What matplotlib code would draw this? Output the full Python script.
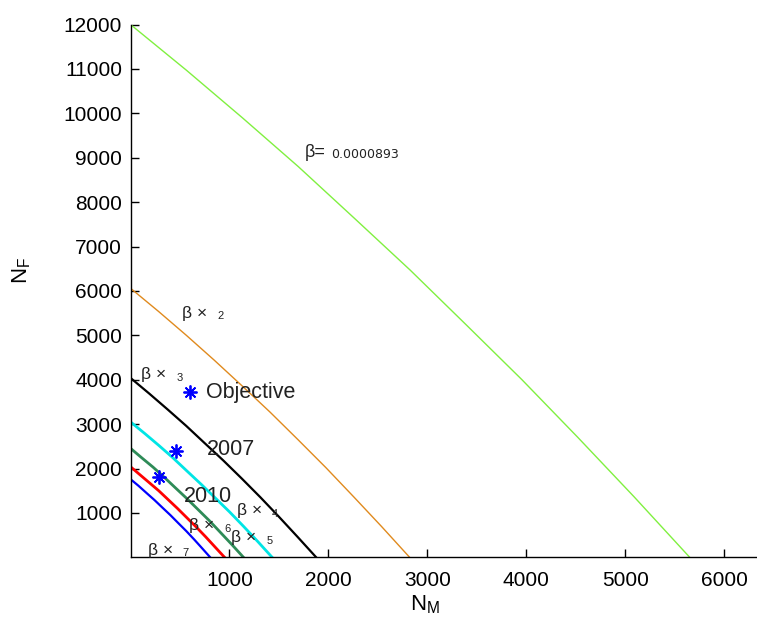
import matplotlib
matplotlib.use("Agg")
import matplotlib.pyplot as plt

# ---- data ----
green_nm = [0, 565, 1130, 1695, 2260, 2825, 3390, 3955, 4520, 5085, 5650]
green_nf = [12000, 10970, 9900, 8800, 7640, 6470, 5240, 4000, 2700, 1370, 0]
orange_nm = [0, 282, 564, 846, 1128, 1410, 1692, 1974, 2256, 2538, 2820]
orange_nf = [6060, 5540, 5000, 4440, 3860, 3270, 2650, 2020, 1360, 690, 0]
black_nm = [0, 188, 375, 563, 750, 938, 1126, 1313, 1501, 1688, 1876]
black_nf = [4040, 3690, 3330, 2960, 2570, 2180, 1770, 1350, 910, 460, 0]
cyan_nm = [0, 143, 286, 429, 572, 716, 859, 1002, 1145, 1288, 1431]
cyan_nf = [3050, 2790, 2520, 2240, 1940, 1640, 1330, 1020, 690, 350, 0]
dgreen_nm = [0, 114, 228, 342, 456, 571, 685, 799, 913, 1027, 1141]
dgreen_nf = [2455, 2240, 2030, 1800, 1560, 1320, 1070, 820, 550, 280, 0]
red_nm = [0, 95, 190, 285, 380, 475, 570, 665, 760, 855, 950]
red_nf = [2040, 1860, 1680, 1500, 1300, 1100, 890, 680, 460, 230, 0]
blue_nm = [0, 81, 161, 242, 322, 403, 483, 564, 644, 725, 805]
blue_nf = [1760, 1610, 1450, 1290, 1120, 950, 770, 590, 400, 200, 0]

point_names = ["Objective", "2007", "2010"]
point_nm = [606, 461, 283]
point_nf = [3716, 2401, 1815]

mult_labels = ["2", "3", "4", "5", "6", "7"]
mult_x = [525, 111, 1081, 1020, 596, 172]
mult_y = [5502, 4106, 1043, 435, 705, 164]

x_ticks = [1000, 2000, 3000, 4000, 5000, 6000]
y_ticks = [1000, 2000, 3000, 4000, 5000, 6000, 7000, 8000, 9000, 10000, 11000, 12000]

plt.rcParams['font.family'] = ['Liberation Sans', 'DejaVu Sans']

fig = plt.figure(figsize=(7.57, 6.27), dpi=100)
ax = fig.add_axes([130.5 / 757, (627 - 557.3) / 627, (757 - 130.5) / 757, (557.3 - 24.5) / 627])

ax.plot(green_nm, green_nf, color='#80F040', lw=1.0)
ax.plot(orange_nm, orange_nf, color='#E08A1E', lw=1.0)
ax.plot(black_nm, black_nf, color='black', lw=1.6)
ax.plot(cyan_nm, cyan_nf, color='#00E5E5', lw=2.0)
ax.plot(dgreen_nm, dgreen_nf, color='#2E8B57', lw=2.0)
ax.plot(red_nm, red_nf, color='#FF0000', lw=2.0)
ax.plot(blue_nm, blue_nf, color='#0000FF', lw=1.6)

ax.plot(point_nm, point_nf, linestyle='none', marker=(8, 2, 0), markersize=10,
        markeredgecolor='blue', markeredgewidth=1.3, color='blue')

label_offsets = {"Objective": (758, 3716), "2007": (768, 2417), "2010": (535, 1380)}
for name in point_names:
    lx, ly = label_offsets[name]
    ax.text(lx, ly, name, fontsize=15.5, color='#222222', va='center', ha='left')

for lab, lx, ly in zip(mult_labels, mult_x, mult_y):
    ax.annotate("β ×", (lx, ly), fontsize=12.5, va='center', ha='left', color='#222222')
    ax.annotate(lab, (lx, ly), xytext=(25, -2), textcoords='offset points',
                fontsize=8, va='center', ha='left', color='#222222')

ax.annotate("β=", (1758, 9106), fontsize=13, va='center', ha='left', color='#222222')
ax.annotate("0.0000893", (1758, 9106), xytext=(19, -1), textcoords='offset points',
            fontsize=9, va='center', ha='left', color='#222222',
            family=['DejaVu Sans'])

ax.set_xlim(0, 6330)
ax.set_ylim(0, 12000)
ax.set_xticks(x_ticks)
ax.set_yticks(y_ticks)
ax.tick_params(direction='in', length=6, width=1, labelsize=15, pad=6)
ax.tick_params(axis='x', pad=10)
for s in ['top', 'right']:
    ax.spines[s].set_visible(False)
for s in ['left', 'bottom']:
    ax.spines[s].set_linewidth(1.0)

fig.text(425 / 757, 1 - 605 / 627, r'$\mathregular{N_M}$', fontsize=16, ha='center', va='center')
fig.text(22 / 757, 1 - 270 / 627, r'$\mathregular{N_F}$', fontsize=16, ha='center', va='center', rotation=90)

fig.savefig("out.png", dpi=100)
